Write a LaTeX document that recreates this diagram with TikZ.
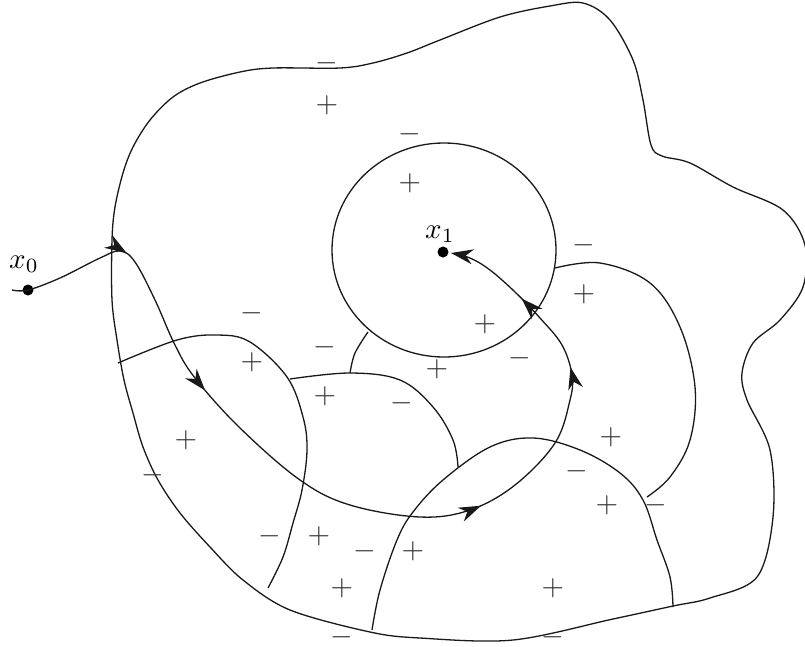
\documentclass[tikz,border=0pt]{standalone}
\usetikzlibrary{arrows.meta,decorations.markings}
\begin{document}
\begin{tikzpicture}[x=1pt,y=-1pt,
  curve/.style={draw=black!90, line width=1.3pt, line join=round},
  sign/.style={inner sep=0pt, text=black!80},
  dot/.style={circle, fill=black, inner sep=0pt, minimum size=11pt},
  >={Stealth[length=22pt,width=15pt,inset=7pt]}
]
\newcommand{\sgn}[1]{\scalebox{2.9}{$#1$}}
\useasboundingbox (0,0) rectangle (805,646);

% outer boundary
\draw[curve] plot[smooth cycle, tension=0.55] coordinates {
  (112,240) (115,207) (123,173) (133,147) (150,120) (173,97) (200,83)
  (240,72) (273,68) (340,68) (373,63) (407,53) (440,40)
  (500,17) (550,6) (583,3) (610,20) (633,60) (643,100) (651,145) (662,156)
  (690,163) (733,187) (783,210) (805,245) (803,287) (780,320) (753,343)
  (742,373) (747,400) (770,450) (773,517) (757,577) (710,598) (673,606)
  (613,619) (513,640) (420,638) (370,632) (290,610) (243,580) (210,547)
  (180,513) (158,480) (143,447) (133,413) (124,380) (117,340) (112,300)};

% disc around x1
\draw[curve] (444,250) ellipse [x radius=112, y radius=107];

% interior curves
\draw[curve] plot[smooth, tension=0.6] coordinates {
  (118,363) (177,340) (217,335) (250,342) (287,377) (303,417) (307,450)
  (302,490) (293,523) (283,557) (268,588)};
\draw[curve] plot[smooth, tension=0.6] coordinates {
  (290,379) (350,373) (400,380) (433,407) (453,440) (458,467)};
\draw[curve] plot[smooth, tension=0.6] coordinates {
  (350,373) (355,353) (368,332)};
\draw[curve] plot[smooth, tension=0.6] coordinates {
  (372,630) (380,590) (397,540) (413,512) (443,480) (490,447) (533,438)
  (580,450) (620,473) (643,500) (657,540) (670,577) (673,607)};
\draw[curve] plot[smooth, tension=0.6] coordinates {
  (555,268) (600,263) (650,283) (680,327) (695,387) (690,440) (670,477)
  (647,497)};

% points
\node[dot] (x0) at (28,290) {};
\node[dot] (x1) at (443,252) {};
\node[sign, text=black] (lx0) at (24,264) {\sgn{x_0}};
\node[sign, text=black] (lx1) at (440,234) {\sgn{x_1}};
\coordinate (s) at (12,290);

% path from x0 to x1
\draw[curve, ->, postaction={decorate}, decoration={markings,
    mark=at position 0.13 with {\arrow{>}},
    mark=at position 0.297 with {\arrow{>}},
    mark=at position 0.634 with {\arrow{>}},
    mark=at position 0.82 with {\arrow{>}},
    mark=at position 0.91 with {\arrow{>}}}]
  plot[smooth, tension=0.6] coordinates {
  (s) (x0.center) (60,278) (100,258) (120,251) (135,262) (155,300) (175,345)
  (195,378) (240,428) (300,480) (350,505) (420,517) (470,510) (515,485)
  (555,443) (570,400) (572,375) (562,345) (540,318) (515,292) (490,270)
  (470,258) (451,253)};

% signs
\node[sign] (m1) at (327,63) {\sgn{-}};
\node[sign] (p1) at (327,105) {\sgn{+}};
\node[sign] (m2) at (410,134) {\sgn{-}};
\node[sign] (p2) at (410,183) {\sgn{+}};
\node[sign] (m3) at (584,245) {\sgn{-}};
\node[sign] (p3) at (584,294) {\sgn{+}};
\node[sign] (p4) at (485,324) {\sgn{+}};
\node[sign] (m4) at (520,358) {\sgn{-}};
\node[sign] (p5) at (437,369) {\sgn{+}};
\node[sign] (m5) at (325,347) {\sgn{-}};
\node[sign] (m6) at (252,313) {\sgn{-}};
\node[sign] (p6) at (252,362) {\sgn{+}};
\node[sign] (p7) at (325,396) {\sgn{+}};
\node[sign] (m7) at (402,403) {\sgn{-}};
\node[sign] (p8) at (186,440) {\sgn{+}};
\node[sign] (m8) at (153,475) {\sgn{-}};
\node[sign] (p9) at (611,437) {\sgn{+}};
\node[sign] (m9) at (577,471) {\sgn{-}};
\node[sign] (p10) at (607,505) {\sgn{+}};
\node[sign] (m10) at (656,505) {\sgn{-}};
\node[sign] (m11) at (270,536) {\sgn{-}};
\node[sign] (p11) at (319,536) {\sgn{+}};
\node[sign] (m12) at (365,551) {\sgn{-}};
\node[sign] (p12) at (413,551) {\sgn{+}};
\node[sign] (p13) at (342,588) {\sgn{+}};
\node[sign] (m13) at (342,637) {\sgn{-}};
\node[sign] (p14) at (553,588) {\sgn{+}};
\node[sign] (m14) at (553,637) {\sgn{-}};
\end{tikzpicture}
\end{document}
